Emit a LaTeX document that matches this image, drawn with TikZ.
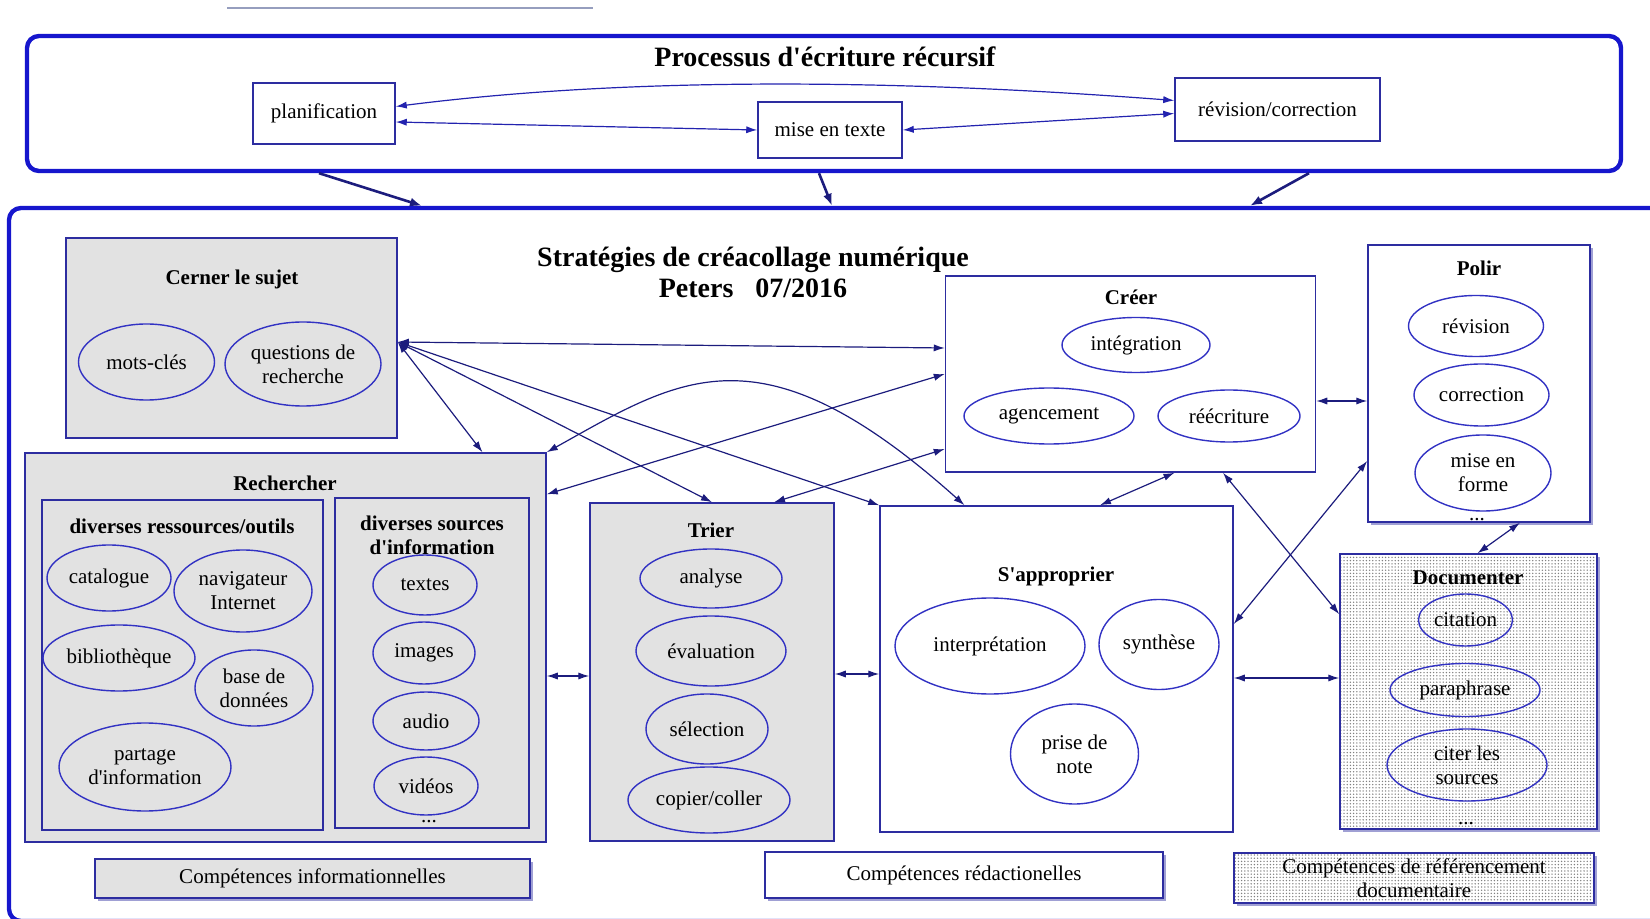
\documentclass[tikz,border=0pt]{standalone}
\usepackage{fontspec}
\setmainfont{Liberation Serif}[Ligatures=TeXOff]
\usetikzlibrary{shapes.geometric,arrows.meta,calc,shadows,patterns.meta}
\definecolor{framecol}{RGB}{22,22,205}
\definecolor{boxcol}{RGB}{45,45,160}
\definecolor{ovalcol}{RGB}{50,50,195}
\definecolor{linkcol}{RGB}{28,28,125}
\definecolor{toplinkcol}{RGB}{35,35,175}
\definecolor{greyfill}{RGB}{226,226,226}
\definecolor{topbar}{RGB}{150,158,190}

\begin{document}
\begin{tikzpicture}
[
x=0.5pt, y=-0.5pt,
every node/.style={font=\fontsize{10.5}{12}\selectfont, inner sep=0pt},
dims/.style 2 args={minimum width=#1, minimum height=#2},
bigframe/.style={rectangle, draw=framecol, line width=2.2pt, rounded corners=6pt},
panel/.style={rectangle, draw=boxcol, line width=0.75pt},
greypanel/.style={panel, fill=greyfill},
dotpanel/.style={panel, preaction={fill=white}, pattern={Dots[distance=1.6pt, radius=0.38pt]}, pattern color=gray},
shadowed/.style={drop shadow={shadow xshift=1.5pt, shadow yshift=-1.5pt, fill=boxcol, opacity=0.45}},
oval/.style={ellipse, draw=ovalcol, line width=0.7pt, align=center},
head/.style={font=\fontsize{10.5}{12}\selectfont\bfseries, align=center},
bigtitle/.style={font=\fontsize{14}{15.5}\selectfont\bfseries, align=center},
link/.style={draw=linkcol, line width=0.6pt, <->, >={Latex[length=5.5pt, width=3.6pt]}},
toplink/.style={link, draw=toplinkcol},
feed/.style={draw=linkcol, line width=1.3pt, ->, >={Latex[length=6pt, width=4.5pt]}}
]
\useasboundingbox (0,0) rectangle (1650,919);
\clip (0,0) rectangle (1650,919);

%Top frame
\draw[topbar, line width=1pt] (227,8) -- (593,8);
\node[bigframe, dims={797pt}{67.5pt}] at(824,103.5)	(procframe) {};
\node[bigtitle] at(825,57)		(proctitle) {Processus d'écriture récursif};
\node[panel, dims={71pt}{30.5pt}] at(324,113.5)		(planif) {planification};
\node[panel, dims={72pt}{28pt}] at(830,130)		(misetexte) {mise en texte};
\node[panel, dims={102.5pt}{31.5pt}] at(1277.5,109.5)	(revcor) {révision/correction};

%Strategies frame
\node[bigframe, dims={845.5pt}{356.5pt}] at(854.5,564.5)	(stratframe) {};
\node[bigtitle] at(753,272)	(strattitle) {Stratégies de créacollage numérique\\Peters\hspace{11pt}07/2016};

%Cerner le sujet
\node[greypanel, dims={165.5pt}{100pt}] at(231.5,338)	(cerner) {};
\node[head] at(232,279)		(cernertitle) {Cerner le sujet};
\node[oval, dims={68pt}{38pt}] at(146.5,362)		(motscles) {mots-clés};
\node[oval, dims={78pt}{42pt}] at(303,364)		(questions) {questions de\\recherche};

%Rechercher
\node[greypanel, dims={260.5pt}{194.5pt}] at(285.5,647.5)	(rech) {};
\node[head] at(285,483)		(rechtitle) {Rechercher};
\node[greypanel, dims={140.5pt}{165pt}] at(182.5,665)	(outils) {};
\node[head] at(182,526)		(outilstitle) {diverses ressources/outils};
\node[greypanel, dims={97pt}{165pt}] at(432,663)		(sources) {};
\node[head] at(432,535)		(sourcestitle) {diverses sources\\d'information};
\node[oval, dims={62pt}{33pt}] at(109,578)		(catalogue) {catalogue};
\node[oval, dims={69pt}{41pt}] at(243,591)		(navigateur) {navigateur\\Internet};
\node[oval, dims={76pt}{33pt}] at(119,658)		(biblio) {bibliothèque};
\node[oval, dims={59pt}{38pt}] at(254,688)		(basedonnees) {base de\\données};
\node[oval, dims={86pt}{44pt}] at(145,767)		(partage) {partage\\d'information};
\node[oval, dims={52pt}{30pt}] at(425,585)		(textes) {textes};
\node[oval, dims={51pt}{31pt}] at(424,653)		(images) {images};
\node[oval, dims={53pt}{29pt}] at(426,721)		(audio) {audio};
\node[oval, dims={52pt}{29pt}] at(426,786)		(videos) {vidéos};
\node[] at(429,822)		(moresources) {...};

%Trier
\node[greypanel, dims={122pt}{169pt}] at(712,672)	(trier) {};
\node[head] at(711,530)		(triertitle) {Trier};
\node[oval, dims={71pt}{29.5pt}] at(711,578.5)		(analyse) {analyse};
\node[oval, dims={75pt}{35pt}] at(711,651)		(evaluation) {évaluation};
\node[oval, dims={61pt}{35pt}] at(707,729)		(selection) {sélection};
\node[oval, dims={81pt}{33pt}] at(709,800)		(copier) {copier/coller};

%S'approprier
\node[panel, dims={176.5pt}{163pt}] at(1056.5,669)	(sapp) {};
\node[head] at(1056,576)		(sapptitle) {S'approprier};
\node[oval, dims={95pt}{48pt}] at(990,646)		(interpretation) {interprétation};
\node[oval, dims={60pt}{45pt}] at(1159,644.5)		(synthese) {synthèse};
\node[oval, dims={64pt}{50pt}] at(1074.5,754)		(prisenote) {prise de\\note};

%Creer
\node[panel, dims={185pt}{98pt}] at(1130.5,374)	(creer) {};
\node[head] at(1131,297)		(creertitle) {Créer};
\node[oval, dims={74pt}{27.5pt}] at(1136,345)		(integration) {intégration};
\node[oval, dims={85pt}{28pt}] at(1049,416)		(agencement) {agencement};
\node[oval, dims={71pt}{26pt}] at(1229,416)		(reecriture) {réécriture};

%Polir
\node[shadowed, panel, fill=white, dims={111pt}{138.5pt}] at(1479,383.5)	(polir) {};
\node[head] at(1479,268)		(polirtitle) {Polir};
\node[oval, dims={67.5pt}{30.5pt}] at(1476,326)		(revision) {révision};
\node[oval, dims={67.5pt}{31pt}] at(1481.5,395)		(correction) {correction};
\node[oval, dims={68pt}{38pt}] at(1483,473)		(miseenforme) {mise en\\forme};
\node[] at(1477,520)		(morepolir) {...};

%Documenter
\node[shadowed, dotpanel, dims={128.5pt}{137.5pt}] at(1468.5,691.5)	(docu) {};
\node[head] at(1468,578)		(docutitle) {Documenter};
\node[oval, dims={47pt}{26pt}] at(1465.5,620)		(citation) {citation};
\node[oval, dims={75pt}{26.5pt}] at(1465,690)		(paraphrase) {paraphrase};
\node[oval, dims={80pt}{36pt}] at(1467,765)		(citersources) {citer les\\sources};
\node[] at(1466,824)		(moredocu) {...};

%Legend
\node[shadowed, greypanel, dims={217.5pt}{19.5pt}] at(312.5,878.5)	(info) {Compétences informationnelles};
\node[shadowed, panel, fill=white, dims={199pt}{23pt}] at(964,875)	(redac) {Compétences rédactionelles};
\node[shadowed, dotpanel, align=center, dims={180pt}{25pt}] at(1414,878)	(refdoc) {Compétences de référencement\\documentaire};

%Arrows
\draw[toplink] ($(planif.east)+(0,-7)$) .. controls (620,78) and (880,78) .. ($(revcor.west)+(0,-9)$);
\draw[toplink] ($(planif.east)+(0,8.5)$) -- (misetexte.west);
\draw[toplink] (misetexte.east) -- ($(revcor.west)+(0,4)$);
\draw[feed] ($(procframe.south)+(-505,0)$) -- ($(stratframe.north)+(-432.5,0)$);
\draw[feed] ($(procframe.south)+(-5,0)$) -- ($(stratframe.north)+(-22.5,0)$);
\draw[feed] ($(procframe.south)+(485,0)$) -- ($(stratframe.north)+(395.5,0)$);

\coordinate (hub) at ($(cerner.east)+(0,4)$);
\draw[link] (hub) -- ($(creer.west)+(0,-26)$);
\draw[link] (hub) -- ($(rech.north)+(197,0)$);
\draw[link] (hub) -- (trier.north);
\draw[link] (hub) -- (sapp.north west);
\draw[link] (rech.north east) .. controls (680,378) and (760,322) .. ($(sapp.north)+(-92,0)$);
\draw[link] ($(rech.north east)+(0,42)$) -- (creer.west);
\draw[link] ($(trier.north)+(62,0)$) -- ($(creer.west)+(0,75)$);
\draw[link] ($(creer.south)+(44,0)$) -- ($(sapp.north)+(43.5,0)$);
\draw[link] ($(creer.east)+(0,27)$) coordinate (cp) -- (cp -| polir.west);
\draw[link] ($(creer.south)+(92.5,0)$) -- ($(docu.north west)+(0,61)$);
\draw[link] ($(sapp.east)+(0,-45)$) -- ($(polir.west)+(0,77.5)$);
\draw[link] ($(sapp.east)+(0,9)$) coordinate (sd) -- (sd -| docu.west);
\draw[link] ($(polir.south)+(41,0)$) -- ($(docu.north)+(9,0)$);
\draw[link] ($(rech.east)+(0,28.5)$) coordinate (rt) -- (rt -| trier.west);
\draw[link] ($(trier.east)+(0,2)$) coordinate (ts) -- (ts -| sapp.west);

\end{tikzpicture}
\end{document}
